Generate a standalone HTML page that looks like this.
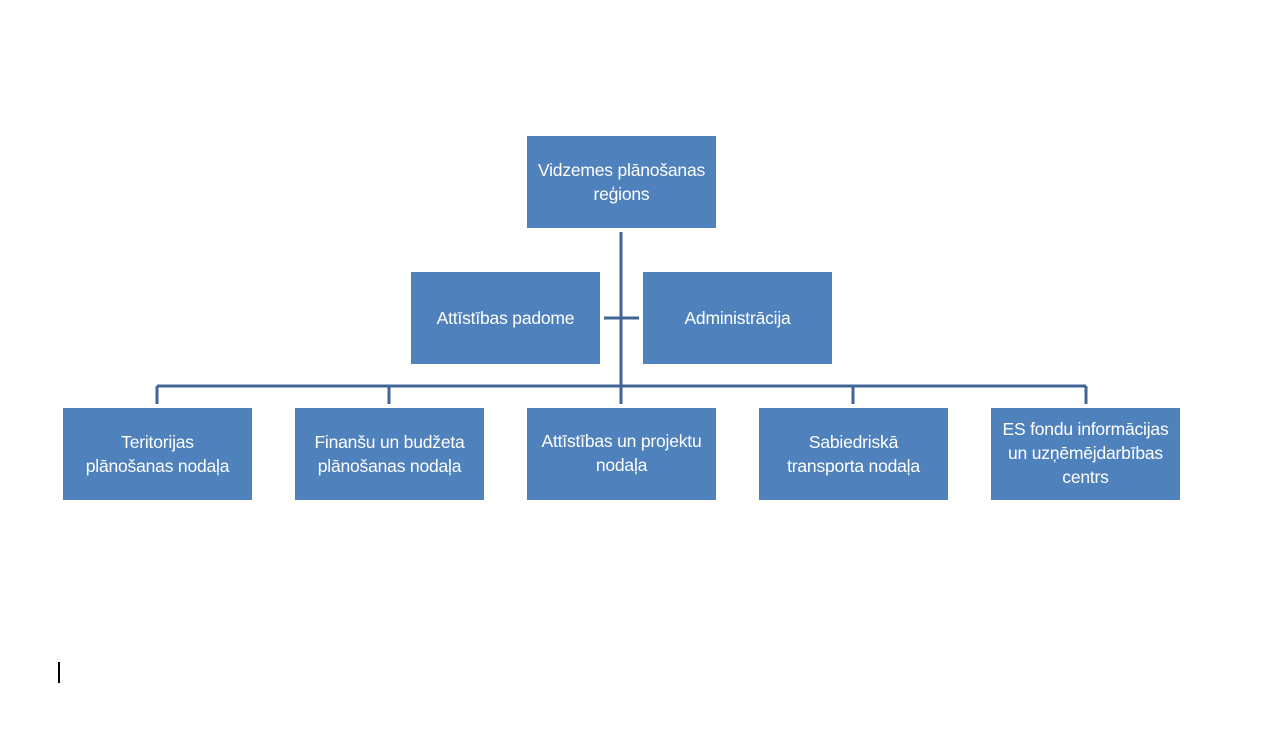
<!DOCTYPE html>
<html><head><meta charset="utf-8"><style>
body{margin:0;width:1276px;height:748px;background:#fff;position:relative;overflow:hidden;font-family:"Liberation Sans",sans-serif}
.b{position:absolute;width:189px;height:92px;background:#4f81bd;color:#fff;font-size:17.5px;line-height:24px;text-align:center;display:flex;align-items:center;justify-content:center;white-space:nowrap;letter-spacing:-0.2px}
.t{align-items:flex-start}
</style></head><body>
<svg width="1276" height="748" style="position:absolute;left:0;top:0">
<g stroke="#3f6495" stroke-width="3" fill="none">
<line x1="621" y1="232" x2="621" y2="404"/>
<line x1="157" y1="386" x2="1086" y2="386"/>
<line x1="157" y1="386" x2="157" y2="404"/>
<line x1="389" y1="386" x2="389" y2="404"/>
<line x1="853" y1="386" x2="853" y2="404"/>
<line x1="1086" y1="386" x2="1086" y2="404"/>
<line x1="604" y1="318" x2="639" y2="318"/>
</g>
<line x1="59" y1="662" x2="59" y2="683" stroke="#000" stroke-width="2"/>
</svg>
<div class="b t" style="left:527px;top:136px;height:70px;padding-top:22px">Vidzemes plānošanas<br>reģions</div>
<div class="b" style="left:411px;top:272px">Attīstības padome</div>
<div class="b" style="left:643px;top:272px">Administrācija</div>
<div class="b" style="left:63px;top:408px">Teritorijas<br>plānošanas nodaļa</div>
<div class="b" style="left:295px;top:408px">Finanšu un budžeta<br>plānošanas nodaļa</div>
<div class="b t" style="left:527px;top:408px;height:71px;padding-top:21px">Attīstības un projektu<br>nodaļa</div>
<div class="b" style="left:759px;top:408px">Sabiedriskā<br>transporta nodaļa</div>
<div class="b" style="left:991px;top:408px;padding-bottom:3px;height:89px">ES fondu informācijas<br>un uzņēmējdarbības<br>centrs</div>
</body></html>
